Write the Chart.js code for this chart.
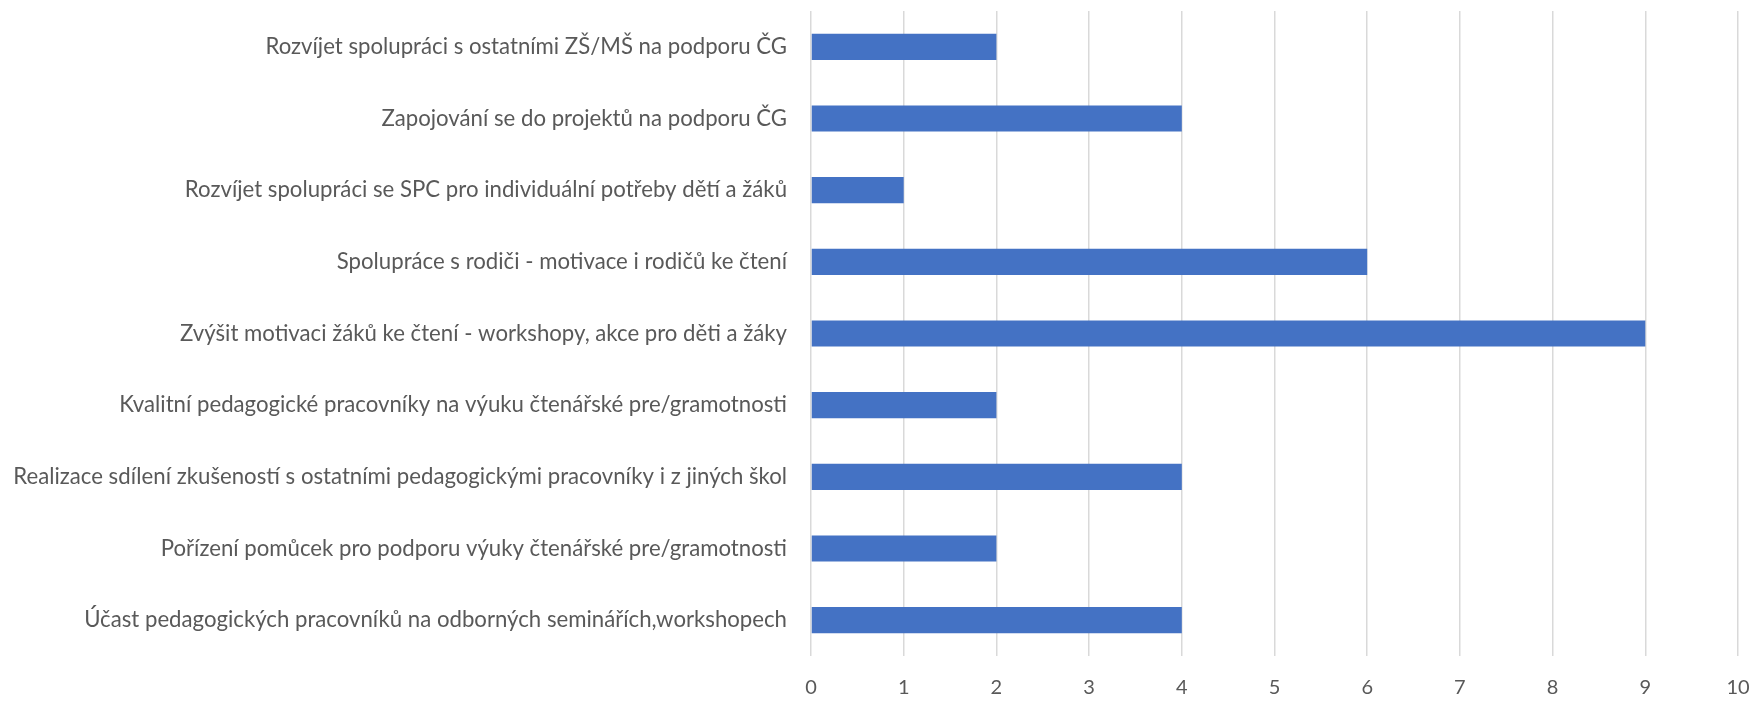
<!DOCTYPE html>
<html>
<head>
<meta charset="utf-8">
<script src="https://cdn.jsdelivr.net/npm/chart.js@4/dist/chart.umd.min.js"></script>
<style>
html,body{margin:0;padding:0;background:#fff;}
#wrap{width:1756px;height:713px;position:relative;}
</style>
</head>
<body>
<div id="wrap"><canvas id="c" width="1756" height="713"></canvas></div>
<script>
const categories = [
  "Rozvíjet spolupráci s ostatními ZŠ/MŠ na podporu ČG",
  "Zapojování se do projektů na podporu ČG",
  "Rozvíjet spolupráci se SPC pro individuální potřeby dětí a žáků",
  "Spolupráce s rodiči - motivace i rodičů ke čtení",
  "Zvýšit motivaci žáků ke čtení - workshopy, akce pro děti a žáky",
  "Kvalitní pedagogické pracovníky na výuku čtenářské pre/gramotnosti",
  "Realizace sdílení zkušeností s ostatními pedagogickými pracovníky i z jiných škol",
  "Pořízení pomůcek pro podporu výuky čtenářské pre/gramotnosti",
  "Účast pedagogických pracovníků na odborných seminářích,workshopech"
];
const values = [2, 4, 1, 6, 9, 2, 4, 2, 4];
const xTicks = [0,1,2,3,4,5,6,7,8,9,10];

const FONT = "Lato";
const mctx = document.createElement('canvas').getContext('2d');
mctx.font = "100px " + FONT;
let maxW = 0;
categories.forEach(c => { maxW = Math.max(maxW, mctx.measureText(c).width); });
const labelSize = Math.round(774 / maxW * 100 * 10) / 10;

new Chart(document.getElementById('c'), {
  type: 'bar',
  data: {
    labels: categories,
    datasets: [{
      data: values,
      backgroundColor: '#4472C4',
      borderWidth: 0,
      categoryPercentage: 1.0,
      barPercentage: 0.365
    }]
  },
  options: {
    indexAxis: 'y',
    responsive: false,
    animation: false,
    devicePixelRatio: 1,
    layout: { padding: { left: 0, right: 18, top: 11, bottom: 0 } },
    plugins: { legend: { display: false }, tooltip: { enabled: false } },
    scales: {
      x: {
        min: 0, max: 10,
        afterBuildTicks: (s) => { s.ticks = xTicks.map(v => ({ value: v })); },
        afterFit: (s) => { s.height = 57; s.paddingLeft = 0; s.paddingRight = 0; },
        grid: { color: '#d9d9d9', lineWidth: 1.5, drawTicks: false },
        border: { display: false },
        ticks: { color: '#595959', font: { family: FONT, size: 20 }, padding: 20 }
      },
      y: {
        afterFit: (s) => { s.width = 811; s.paddingTop = 0; s.paddingBottom = 0; },
        grid: { display: false, drawTicks: false },
        border: { display: false },
        ticks: { color: '#595959', font: { family: FONT, size: labelSize }, padding: 24, autoSkip: false }
      }
    }
  }
});
</script>
</body>
</html>
